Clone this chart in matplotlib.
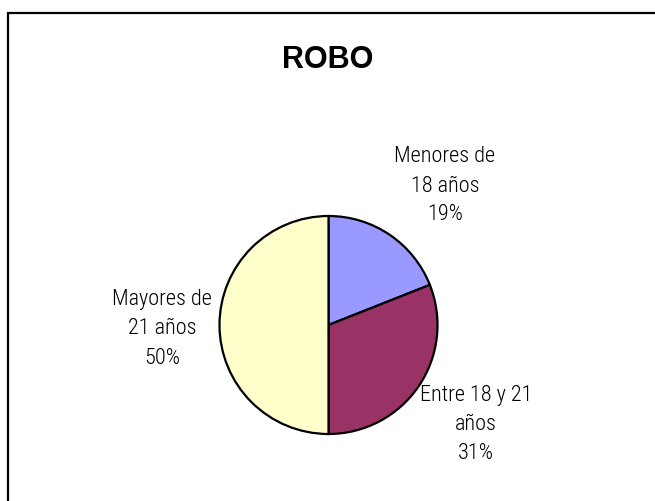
import matplotlib
matplotlib.use("Agg")
import matplotlib.pyplot as plt
from matplotlib.patches import Rectangle

title = "ROBO"
categories = ["Menores de\n18 años", "Entre 18 y 21\naños", "Mayores de\n21 años"]
values = [19, 31, 50]
colors = ["#9999FF", "#993366", "#FFFFCC"]

W, H = 655, 502
fig = plt.figure(figsize=(W / 100, H / 100), dpi=100)
ax = fig.add_axes([0, 0, 1, 1])
ax.axis("off")

# frame (extends past right/bottom)
ax.add_patch(Rectangle((8, -20), W + 20, H - 14 + 20, fill=False,
                       edgecolor="#000000", linewidth=1.6))

cx, cy, r = 328.5, H - 326, 109
ax.pie(values, colors=colors, startangle=90, counterclock=False,
       center=(cx, cy), radius=r,
       wedgeprops=dict(edgecolor="black", linewidth=1.6))
ax.set_xlim(0, W)
ax.set_ylim(0, H)
ax.set_aspect("equal")

label_pos = [(445, 186), (476, 425), (162, 329)]
for cat, v, (lx, ly) in zip(categories, values, label_pos):
    ax.text(lx, H - ly, f"{cat}\n{v}%", ha="center", va="center",
            fontsize=16, family="Roboto Condensed", fontweight=300,
            linespacing=1.5)

ax.text(328, H - 60, title, ha="center", va="center", fontsize=22,
        fontweight="bold", family="Liberation Sans")

fig.savefig("out.png", dpi=100)
